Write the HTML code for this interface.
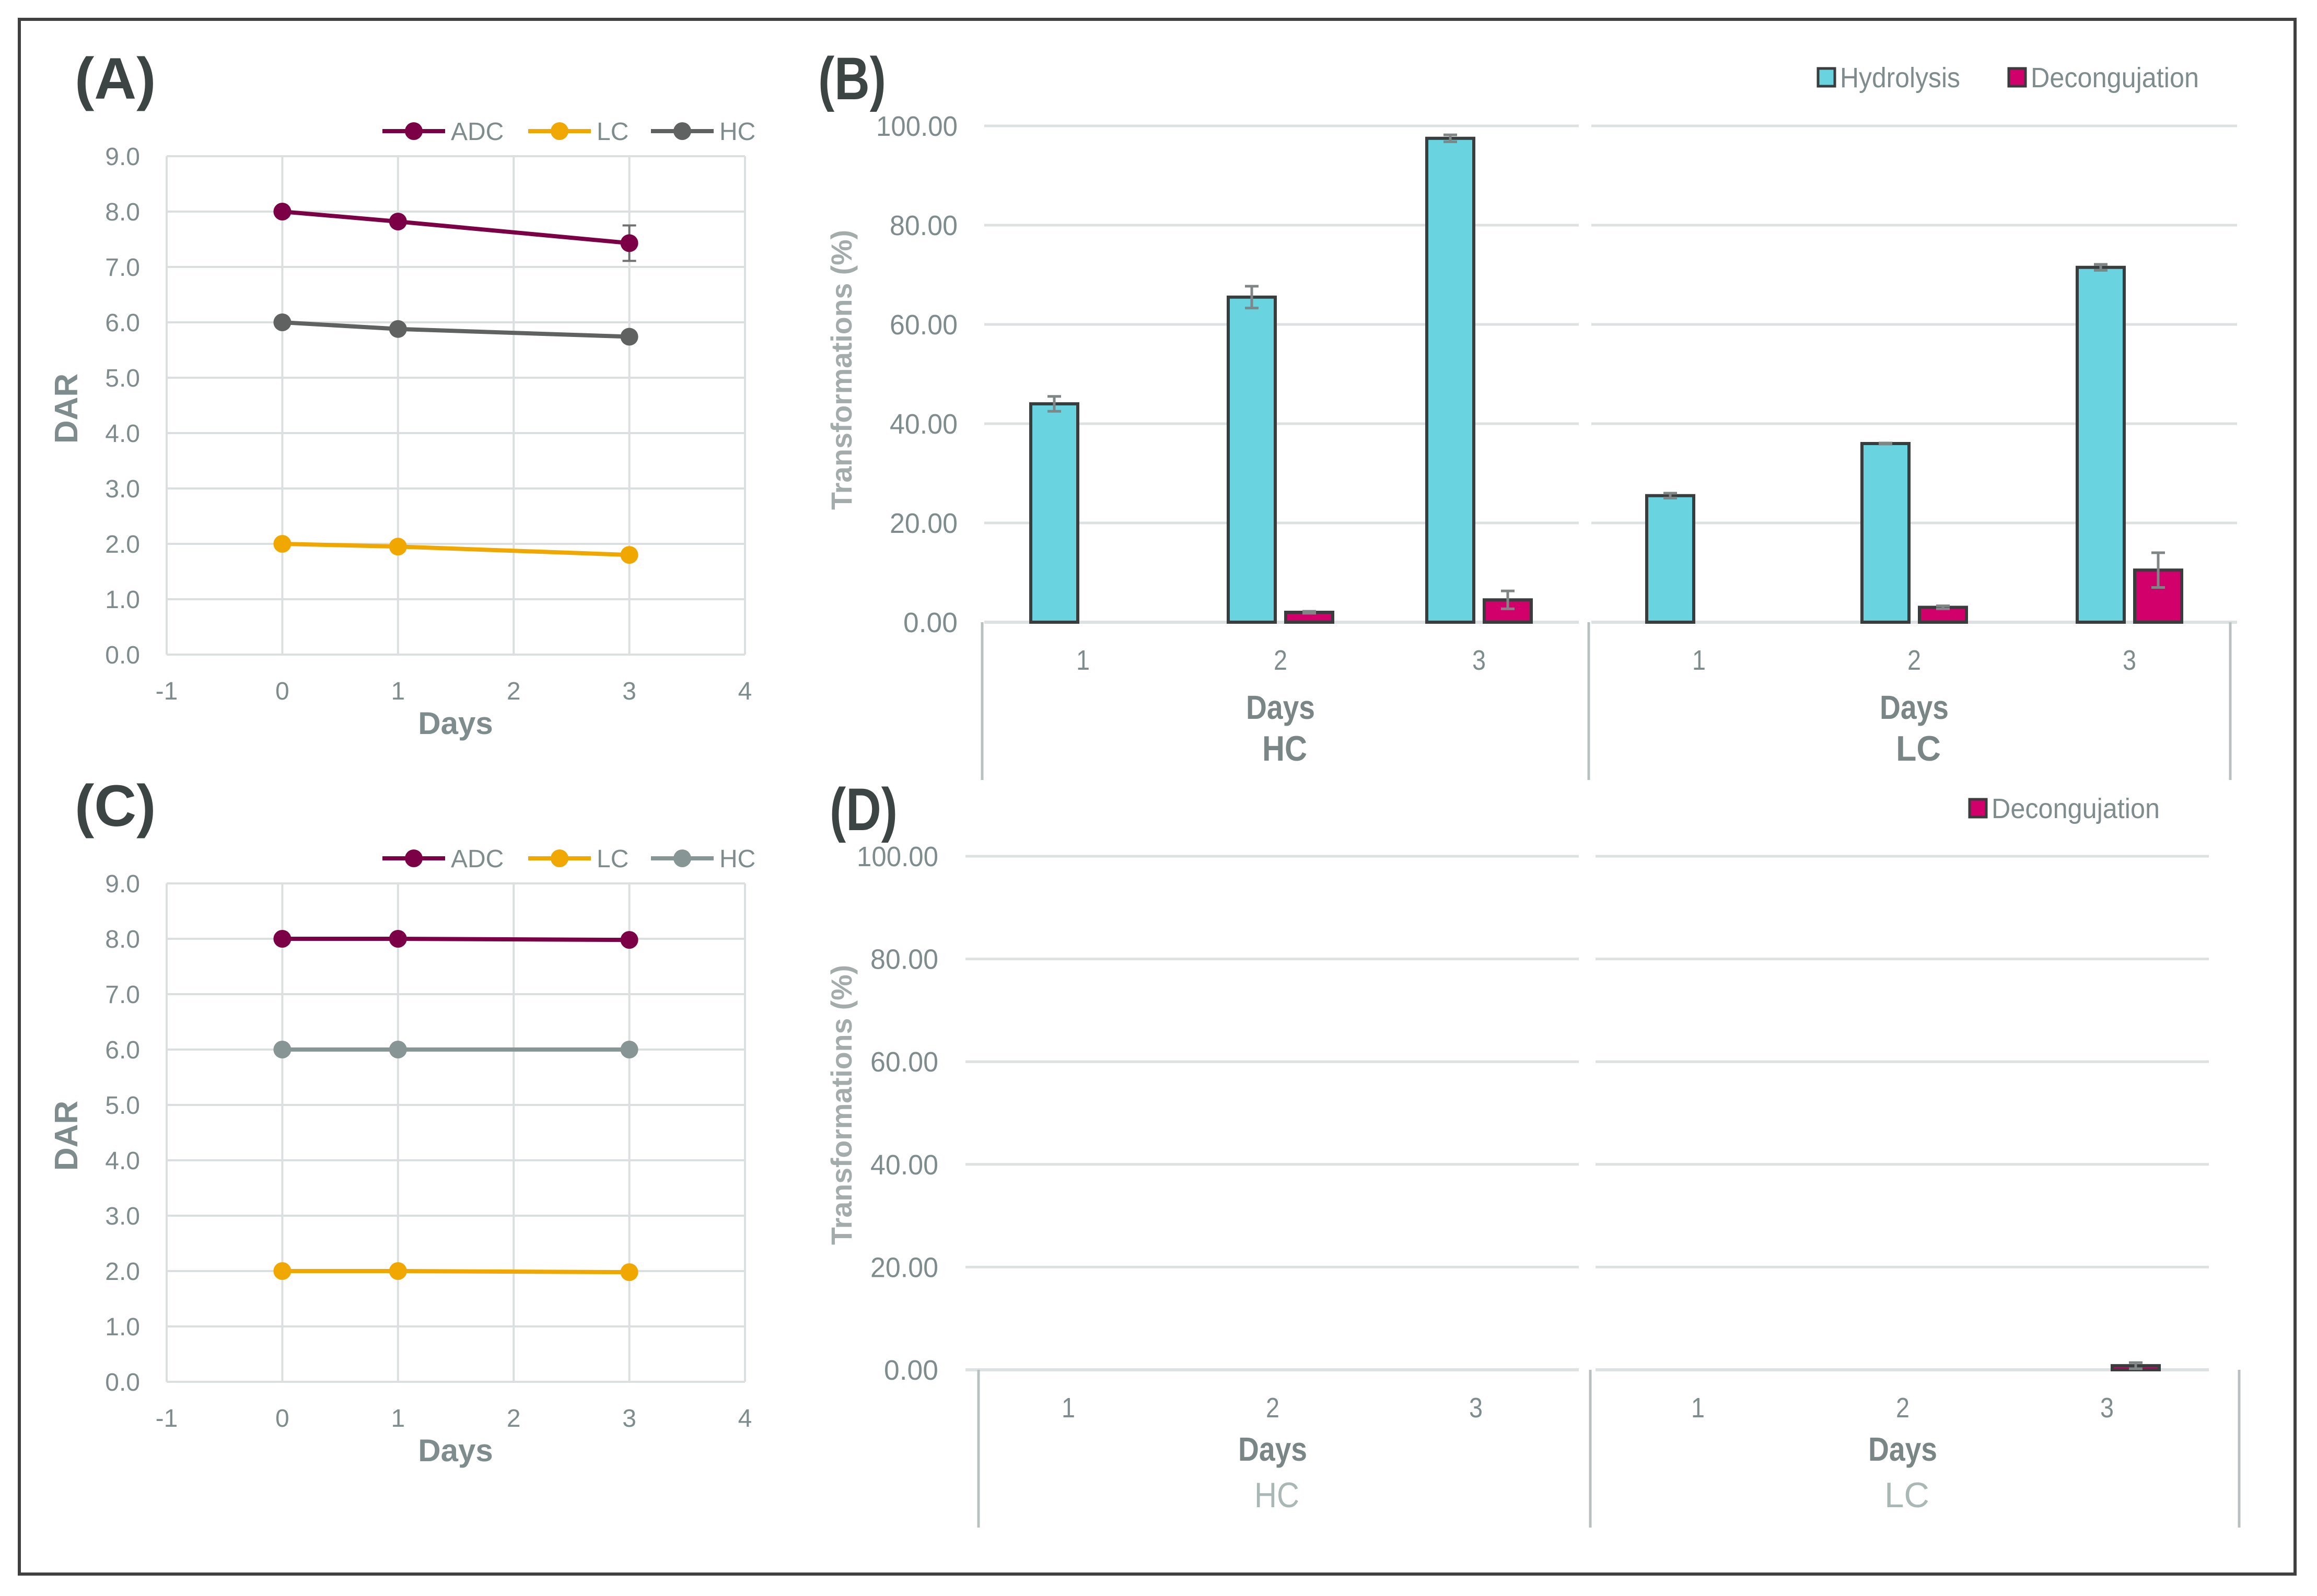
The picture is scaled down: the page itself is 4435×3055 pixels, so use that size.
<!DOCTYPE html>
<html><head><meta charset="utf-8"><style>
html,body{margin:0;padding:0;background:#fff;}
svg{display:block;}
</style></head><body>
<svg id="fig" width="4435" height="3055" viewBox="0 0 4435 3055" xmlns="http://www.w3.org/2000/svg">
<rect x="37" y="37" width="4356" height="2976" fill="#fff" stroke="#404040" stroke-width="6"/>
</svg>
<script>
// ---- Data: panels A and C (DAR line charts)
const lineDays = [0, 1, 3];
const aADC = [8.0, 7.82, 7.43];
const aADCerr = [0, 0, 0.32];
const aLC = [2.0, 1.95, 1.80];
const aHC = [6.0, 5.88, 5.74];
const cADC = [8.0, 8.0, 7.98];
const cLC = [2.0, 2.0, 1.98];
const cHC = [6.0, 6.0, 6.0];
const dayTicks = [-1, 0, 1, 2, 3, 4];
const darTicks = [0, 1, 2, 3, 4, 5, 6, 7, 8, 9];
// ---- Data: panels B and D (bar charts)
const barGroups = ['HC', 'LC'];
const barDays = ['1', '2', '3'];
const bHydHC = [44.0, 65.5, 97.5];
const bHydHCerr = [1.5, 2.2, 0.7];
const bDecHC = [0, 2.0, 4.5];
const bDecHCerr = [0, 0.2, 1.8];
const bHydLC = [25.5, 36.0, 71.5];
const bHydLCerr = [0.5, 0.1, 0.6];
const bDecLC = [0, 3.0, 10.5];
const bDecLCerr = [0, 0.3, 3.5];
const dDecHC = [0, 0, 0];
const dDecHCerr = [0, 0, 0];
const dDecLC = [0, 0, 0.8];
const dDecLCerr = [0, 0, 0.6];
const pctTicks = [0, 20, 40, 60, 80, 100];

const svg = document.getElementById('fig');
const NS = 'http://www.w3.org/2000/svg';
function el(tag, attrs, parent, text) {
  const e = document.createElementNS(NS, tag);
  for (const k in attrs) e.setAttribute(k, attrs[k]);
  if (text !== undefined) e.textContent = text;
  (parent || svg).appendChild(e);
  return e;
}
const SANS = '"Liberation Sans", "DejaVu Sans", sans-serif';
const TXT = '#7f8c8d';
function ntext(attrs, parent, text, width) {
  attrs['font-family'] = SANS;
  attrs.textLength = width;
  attrs.lengthAdjust = 'spacingAndGlyphs';
  return el('text', attrs, parent, text);
}

function linePanel(label, top, series) {
  const g = el('g', {});
  
  
  const x0 = 319, x1 = 1426, y9 = top, y0 = top + 954;
  const xs = v => x0 + (v + 1) / 5 * (x1 - x0);
  const ys = v => y0 - v / 9 * (y0 - y9);
  const t = el('text', {x: 143, y: top - 110, 'font-family': SANS, 'font-weight': 'bold', 'font-size': 112, fill: '#3d4444'}, g, '(' + label + ')');
  
  
  darTicks.forEach(v => {
    const l = el('line', {x1: x0, x2: x1, y1: ys(v), y2: ys(v), stroke: '#dcdfdf', 'stroke-width': 4}, g);
    
    
    const tx = el('text', {x: 268, y: ys(v) + 17, 'text-anchor': 'end', 'font-family': SANS, 'font-size': 48, fill: TXT}, g, v.toFixed(1));
    
    
  });
  dayTicks.forEach(v => {
    const l = el('line', {x1: xs(v), x2: xs(v), y1: y9, y2: y0, stroke: '#dcdfdf', 'stroke-width': 4}, g);
    
    
    const tx = el('text', {x: xs(v), y: y0 + 86, 'text-anchor': 'middle', 'font-family': SANS, 'font-size': 48, fill: TXT}, g, String(v));
    
    
  });
  const xt = el('text', {x: 872, y: y0 + 152, 'text-anchor': 'middle', 'font-family': SANS, 'font-weight': 'bold', 'font-size': 60, fill: TXT}, g, 'Days');
  
  
  const yt = el('text', {x: 0, y: 0, transform: 'translate(148,' + (top + 483) + ') rotate(-90)', 'text-anchor': 'middle', 'font-family': SANS, 'font-weight': 'bold', 'font-size': 62, fill: TXT}, g, 'DAR');
  
  
  const legX = [732, 1011, 1246];
  series.forEach((s, i) => {
    const pts = s.vals.map((v, j) => xs(lineDays[j]) + ',' + ys(v)).join(' ');
    const pl = el('polyline', {points: pts, fill: 'none', stroke: s.color, 'stroke-width': 8}, g);
    
    
    if (s.err) s.err.forEach((e, j) => {
      if (!e) return;
      const cx = xs(lineDays[j]), a = ys(s.vals[j] + e), b = ys(s.vals[j] - e);
      const eb = el('path', {d: `M${cx},${a}V${b}M${cx-13},${a}H${cx+13}M${cx-13},${b}H${cx+13}`, stroke: '#707070', 'stroke-width': 4, fill: 'none'}, g);
      
      
    });
    s.vals.forEach((v, j) => {
      const c = el('circle', {cx: xs(lineDays[j]), cy: ys(v), r: 17, fill: s.color}, g);
      
      
    });
    const lg = el('g', {}, g);
    
    
    const ly = top - 48;
    el('line', {x1: legX[i], x2: legX[i] + 120, y1: ly, y2: ly, stroke: s.color, 'stroke-width': 8}, lg);
    el('circle', {cx: legX[i] + 60, cy: ly, r: 17, fill: s.color}, lg);
    el('text', {x: legX[i] + 131, y: ly + 17, 'font-family': SANS, 'font-size': 48, fill: TXT}, lg, s.name);
  });
}

linePanel('A', 299, [
  {name: 'ADC', vals: aADC, color: '#7b0046', err: aADCerr},
  {name: 'LC', vals: aLC, color: '#f0a800'},
  {name: 'HC', vals: aHC, color: '#606262'}
]);
linePanel('C', 1691, [
  {name: 'ADC', vals: cADC, color: '#7b0046'},
  {name: 'LC', vals: cLC, color: '#f0a800'},
  {name: 'HC', vals: cHC, color: '#889595'}
]);

function barPanel(cfg) {
  const g = el('g', {});
  
  
  const ys = v => cfg.y0 - v / 100 * (cfg.y0 - cfg.y100);
  const t = ntext({x: cfg.labelX, y: cfg.labelY + 42, 'font-weight': 'bold', 'font-size': 115, fill: '#3d4444'}, g, '(' + cfg.label + ')', 130);
  
  
  pctTicks.forEach(v => {
    cfg.segs.forEach(sg => {
      const l = el('line', {x1: sg[0], x2: sg[1], y1: ys(v), y2: ys(v), stroke: '#dde1e1', 'stroke-width': v === 0 ? 6 : 5}, g);
      
      
    });
    const s = v.toFixed(2);
    const tx = ntext({x: cfg.tickRight, y: ys(v) + 19, 'text-anchor': 'end', 'font-size': 54, fill: TXT}, g, s, s.length * 26);
    
    
  });
  cfg.seps.forEach(x => {
    const l = el('line', {x1: x, x2: x, y1: cfg.y0, y2: cfg.sepBottom, stroke: '#b9c0c0', 'stroke-width': 5}, g);
    
    
  });
  const yt = ntext({x: 0, y: 0, transform: `translate(1630,${cfg.titleY}) rotate(-90)`, 'text-anchor': 'middle', 'font-weight': 'bold', 'font-size': 56, fill: '#a4abab'}, g, 'Transformations (%)', 536);
  
  
  barGroups.forEach((grp, gi) => {
    barDays.forEach((d, di) => {
      const cx = cfg.centers[gi][di];
      const tx = ntext({x: cx, y: cfg.tickY + 19, 'text-anchor': 'middle', 'font-size': 54, fill: TXT}, g, d, 26);
      
      
      cfg.series.forEach(s => {
        const v = s.data[gi][di];
        const e = s.err[gi][di];
        const bx = cx + s.offset - 45;
        if (v > 0) {
          const r = el('rect', {x: bx, y: ys(v), width: 90, height: cfg.y0 - ys(v), fill: s.color, stroke: '#3a3d3d', 'stroke-width': 6}, g);
          
          
        }
        if (e > 0) {
          const ex = cx + s.offset, a = ys(v + e), b = ys(Math.max(0, v - e));
          const eb = el('path', {d: `M${ex},${a}V${b}M${ex-13},${a}H${ex+13}M${ex-13},${b}H${ex+13}`, stroke: '#808585', 'stroke-width': 5, fill: 'none'}, g);
          
          
        }
      });
    });
    const dx = cfg.centers[gi][1];
    const dt = ntext({x: dx, y: cfg.daysY + 22, 'text-anchor': 'middle', 'font-weight': 'bold', 'font-size': 64, fill: '#7a8585'}, g, 'Days', 132);
    
    
    const gt = ntext({x: dx + 8, y: cfg.grpY + 25, 'text-anchor': 'middle', 'font-weight': cfg.grpBold ? 'bold' : 'normal', 'font-size': 68, fill: cfg.grpColor}, g, grp, 86);
    
    
  });
  cfg.legend.forEach(L => {
    const lg = el('g', {}, g);
    
    
    el('rect', {x: L.x, y: cfg.labelY - 17, width: 32, height: 34, fill: L.color, stroke: '#3a3d3d', 'stroke-width': 5}, lg);
    ntext({x: L.x + 42, y: cfg.labelY + 19, 'font-size': 54, fill: TXT}, lg, L.name, L.w);
  });
}

barPanel({
  label: 'B', labelX: 1566, labelY: 148, y100: 241, y0: 1191,
  segs: [[1884, 3022], [3046, 4282]], seps: [1880, 3041, 4269], sepBottom: 1493,
  tickRight: 1833, titleY: 708, tickY: 1263, daysY: 1354, grpY: 1431,
  centers: [[2073, 2451, 2831], [3252, 3664, 4076]],
  grpColor: '#7a8585', grpBold: true,
  series: [
    {key: 'hydrolysis', color: '#69d3e0', offset: -55, data: [bHydHC, bHydLC], err: [bHydHCerr, bHydLCerr]},
    {key: 'decongujation', color: '#d1006b', offset: 55, data: [bDecHC, bDecLC], err: [bDecHCerr, bDecLCerr]}
  ],
  legend: [{name: 'Hydrolysis', x: 3480, w: 230, color: '#69d3e0'}, {name: 'Decongujation', x: 3845, w: 322, color: '#d1006b'}]
});
barPanel({
  label: 'D', labelX: 1588, labelY: 1547, y100: 1639, y0: 2622,
  segs: [[1848, 3022], [3054, 4228]], seps: [1873, 3044, 4286], sepBottom: 2924,
  tickRight: 1796, titleY: 2115, tickY: 2694, daysY: 2774, grpY: 2860,
  centers: [[2045, 2436, 2825], [3250, 3642, 4033]],
  grpColor: '#a9b8b4', grpBold: false,
  series: [
    {key: 'decongujation', color: '#d1006b', offset: 55, data: [dDecHC, dDecLC], err: [dDecHCerr, dDecLCerr]}
  ],
  legend: [{name: 'Decongujation', x: 3770, w: 322, color: '#d1006b'}]
});
</script>
</body></html>
